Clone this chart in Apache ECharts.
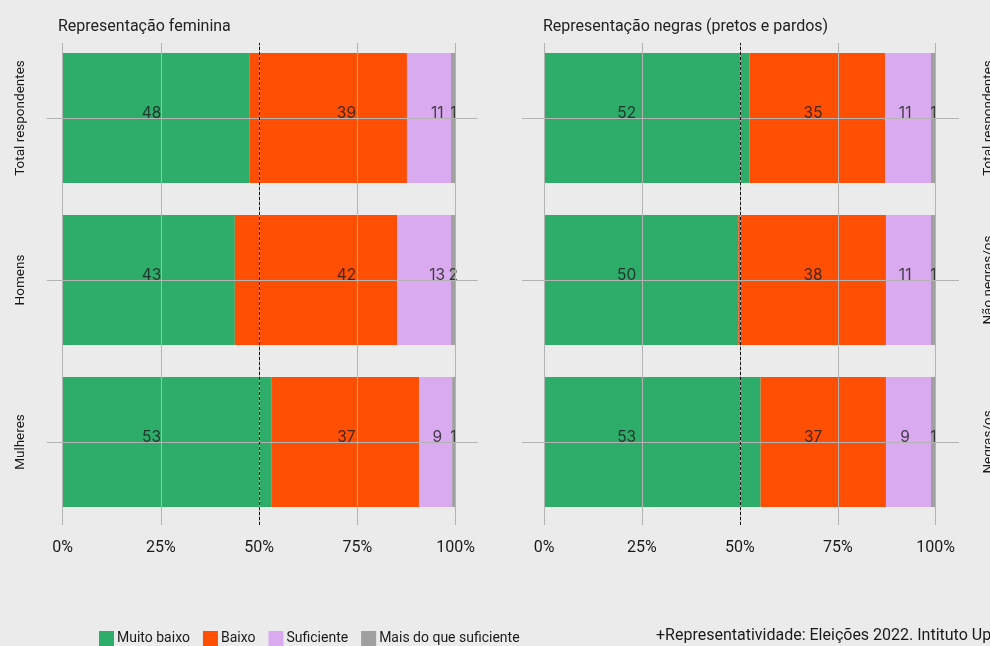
<!DOCTYPE html>
<html>
<head>
<meta charset="utf-8">
<script src="https://cdn.jsdelivr.net/npm/echarts@6/dist/echarts.min.js"></script>
<style>
html,body{margin:0;padding:0;background:#ebebeb;}
#chart{width:990px;height:646px;}
</style>
</head>
<body>
<div id="chart"></div>
<script>
// ---- data ----
const levels = ['Muito baixo', 'Baixo', 'Suficiente', 'Mais do que suficiente'];
const levelColors = ['#2eac69', '#ff4f04', '#daaaf0', '#a0a0a0'];

const categoriesLeft = ['Total respondentes', 'Homens', 'Mulheres'];
const categoriesRight = ['Total respondentes', 'Não negras/os', 'Negras/os'];

// bar widths (share, %)
const leftMuitoBaixo = [47.6, 43.8, 53.2];
const leftBaixo = [40.0, 41.3, 37.5];
const leftSuficiente = [11.2, 13.7, 8.4];
const leftMais = [1.2, 1.2, 0.9];

const rightMuitoBaixo = [52.5, 49.6, 55.3];
const rightBaixo = [34.6, 37.7, 32.0];
const rightSuficiente = [11.7, 11.5, 11.5];
const rightMais = [1.2, 1.2, 1.2];

// printed labels
const leftLabelMuitoBaixo = [48, 43, 53];
const leftLabelBaixo = [39, 42, 37];
const leftLabelSuficiente = [11, 13, 9];
const leftLabelMais = [1, 2, 1];

const rightLabelMuitoBaixo = [52, 50, 53];
const rightLabelBaixo = [35, 38, 37];
const rightLabelSuficiente = [11, 11, 9];
const rightLabelMais = [1, 1, 1];

// x position (in %) where each level's label column sits
const labelPosLeft = [22.6, 72.2, 95.3, 99.4];
const labelPosRight = [21.1, 68.7, 92.2, 99.4];

const tickValues = [0, 25, 50, 75, 100];
const referenceLine = 50;

const titleLeft = 'Representação feminina';
const titleRight = 'Representação negras (pretos e pardos)';
const caption = '+Representatividade: Eleições 2022. Intituto Update';

// ---- build ----
const FONT = 'Roboto';
const NUMFONT = 'Inter';
const TXT = '#1a1a1a';
const GRIDC = '#b3b3b3';

const leftValues = [leftMuitoBaixo, leftBaixo, leftSuficiente, leftMais];
const rightValues = [rightMuitoBaixo, rightBaixo, rightSuficiente, rightMais];
const leftLabels = [leftLabelMuitoBaixo, leftLabelBaixo, leftLabelSuficiente, leftLabelMais];
const rightLabels = [rightLabelMuitoBaixo, rightLabelBaixo, rightLabelSuficiente, rightLabelMais];

const panels = [
  {cats: categoriesLeft, vals: leftValues, labs: leftLabels, pos: labelPosLeft,
   left: 46.7, width: 431, min: -4.07, max: 105.6, yPos: 'left', yMargin: 19},
  {cats: categoriesRight, vals: rightValues, labs: rightLabels, pos: labelPosRight,
   left: 522, width: 437, min: -5.62, max: 105.95, yPos: 'right', yMargin: 23}
];

const grid = [], xAxis = [], yAxis = [], series = [];

panels.forEach((p, k) => {
  const gA = grid.length;
  grid.push({left: p.left, width: p.width, top: 37, height: 486, containLabel: false, outerBoundsMode: 'none'});
  const gB = grid.length;
  grid.push({left: p.left, width: p.width, top: 43, height: 482, containLabel: false, outerBoundsMode: 'none'});

  xAxis.push({gridIndex: gA, type: 'value', min: p.min, max: p.max, show: false});
  xAxis.push({
    gridIndex: gB, type: 'value', min: p.min, max: p.max,
    axisLine: {show: false}, axisTick: {show: false}, splitLine: {show: false},
    axisLabel: {customValues: tickValues, formatter: '{value}%', margin: 15,
      fontFamily: FONT, fontSize: 16, color: TXT}
  });
  yAxis.push({
    gridIndex: gA, type: 'category', data: p.cats, inverse: true, position: p.yPos,
    axisLine: {show: false}, axisTick: {show: false}, splitLine: {show: false},
    axisLabel: {rotate: 90, margin: p.yMargin, fontFamily: FONT, fontSize: 13.5, color: TXT}
  });
  yAxis.push({gridIndex: gB, type: 'value', min: 0, max: 1, show: false});

  const xa = 2 * k, xb = 2 * k + 1, ya = 2 * k, yb = 2 * k + 1;

  levels.forEach((lv, j) => {
    series.push({
      type: 'bar', name: lv, stack: 'panel' + k, xAxisIndex: xa, yAxisIndex: ya,
      barWidth: 130, data: p.vals[j], z: 2,
      itemStyle: {color: levelColors[j]},
      emphasis: {disabled: true}, silent: true
    });
  });

  // horizontal gridlines at category centres
  series.push({
    type: 'scatter', xAxisIndex: xa, yAxisIndex: ya, data: [], z: 3, silent: true,
    markLine: {
      silent: true, symbol: ['none', 'none'], label: {show: false}, animation: false,
      lineStyle: {color: GRIDC, width: 1, type: 'solid'},
      emphasis: {disabled: true},
      data: p.cats.map(c => ({yAxis: c}))
    }
  });

  // vertical gridlines + dashed reference
  series.push({
    type: 'scatter', xAxisIndex: xb, yAxisIndex: yb, data: [[0, 0.5]], symbolSize: 0, z: 3, silent: true,
    markLine: {
      silent: true, symbol: ['none', 'none'], label: {show: false}, animation: false,
      emphasis: {disabled: true},
      data: tickValues.map(v => ({xAxis: v, lineStyle: {color: GRIDC, width: 1, type: 'solid'}}))
        .concat([{xAxis: referenceLine, lineStyle: {color: '#111', width: 1, type: [3, 2]}}])
    }
  });

  // value labels
  const labData = [];
  p.cats.forEach((c, i) => {
    levels.forEach((lv, j) => {
      labData.push([p.pos[j], c, p.labs[j][i]]);
    });
  });
  series.push({
    type: 'scatter', xAxisIndex: xa, yAxisIndex: ya, data: labData, z: 4, silent: true,
    symbolSize: 1, itemStyle: {color: 'rgba(0,0,0,0)'},
    label: {show: true, position: 'inside', offset: [0, -5], formatter: d => String(d.data[2]),
      fontFamily: NUMFONT, fontSize: 15.5, color: TXT}
  });
});

const chart = echarts.init(document.getElementById('chart'));
chart.setOption({
  animation: false,
  backgroundColor: '#ebebeb',
  title: [
    {text: titleLeft, left: 58, top: 19, padding: 0,
      textStyle: {fontFamily: FONT, fontSize: 16, fontWeight: 'normal', color: '#222'}},
    {text: titleRight, left: 543, top: 19, padding: 0,
      textStyle: {fontFamily: FONT, fontSize: 16, fontWeight: 'normal', color: '#222'}}
  ],
  legend: {
    data: levels, left: 99, top: 631, padding: 0, icon: 'rect',
    itemWidth: 15, itemHeight: 15, itemGap: 13,
    textStyle: {fontFamily: FONT, fontSize: 14, color: TXT, padding: [0, 0, 0, -2]},
    selectedMode: false
  },
  graphic: [{
    type: 'text', left: 656, top: 628,
    style: {text: caption, fontFamily: FONT, fontSize: 16, fill: TXT}
  }],
  grid, xAxis, yAxis, series
});
</script>
</body>
</html>
